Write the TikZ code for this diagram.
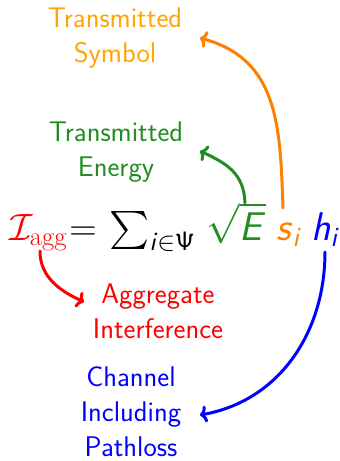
\RequirePackage{fix-cm}
\documentclass[tikz,border=0pt]{standalone}
\usepackage{fontspec}
\usepackage{amsmath}
\DeclareFontFamily{OMX}{cmex}{}
\DeclareFontShape{OMX}{cmex}{m}{n}{<->cmex10}{}
\usetikzlibrary{arrows.meta}
\definecolor{arrorange}{RGB}{255,128,0}
\definecolor{txtorange}{RGB}{255,165,0}
\definecolor{fgreen}{RGB}{34,139,34}
\newcommand{\sfit}[1]{\textsf{\textsl{#1}}}
\newcommand{\sfPsi}{\text{\fontencoding{OT1}\fontfamily{cmss}\fontshape{n}\selectfont\char9}}
\begin{document}
\begin{tikzpicture}[x=1pt,y=-1pt,
  lbl/.style={font=\fontsize{28.4}{35}\selectfont\sffamily, align=center, inner sep=0pt},
  eqn/.style={font=\fontsize{38}{44}\selectfont, anchor=base west, inner sep=0pt},
  eqs/.style={font=\fontsize{40}{46}\selectfont, anchor=base west, inner sep=0pt},
  arr/.style={line width=3pt, line cap=round, -{To[length=7pt,width=17pt]}}]
\useasboundingbox (0,0) rectangle (340,461);
% labels
\node[lbl, text=txtorange] (tsym) at (115,38) {Transmitted\\Symbol};
\node[lbl, text=fgreen] (tene) at (116,152) {Transmitted\\Energy};
\node[lbl, text=red] (agg) at (158,311) {Aggregate\\Interference};
\node[lbl, text=blue] (chan) at (131,412) {Channel\\Including\\Pathloss};
% equation
\node[eqn, text=red] (iagg) at (9,240) {$\mathcal{I}_{\mathrm{agg}}$};
\node[eqn, xshift=2pt] (eqsum) at (iagg.base east) {$=\mkern1mu\sum_{\sfit{i}\in\sfPsi}$};
\node[eqs, text=fgreen] (sqe) at (206,240) {$\sqrt{\sfit{E}}$};
\node[eqs, text=arrorange] (si) at (276,240) {$\sfit{s}_{\sfit{i}}$};
\node[eqs, text=blue] (hi) at (311,240) {$\sfit{h}_{\sfit{i}}$};
% connector ends
\coordinate (sS) at (283,208);
\coordinate (tS) at (200,38);
\coordinate (sE) at (245,203);
\coordinate (tE) at (200,151);
\coordinate (sA) at (40,251);
\coordinate (tA) at (84,302);
\coordinate (sC) at (325,252);
\coordinate (tC) at (200,415);
\draw[arr, arrorange] (sS) to[out=92, in=-15, looseness=1.1] (tS);
\draw[arr, fgreen] (sE) to[out=92, in=-25, looseness=1.1] (tE);
\draw[arr, red] (sA) to[out=-90, in=155, looseness=1] (tA);
\draw[arr, blue] (sC) to[out=-90, in=10, looseness=1] (tC);
\end{tikzpicture}
\end{document}
